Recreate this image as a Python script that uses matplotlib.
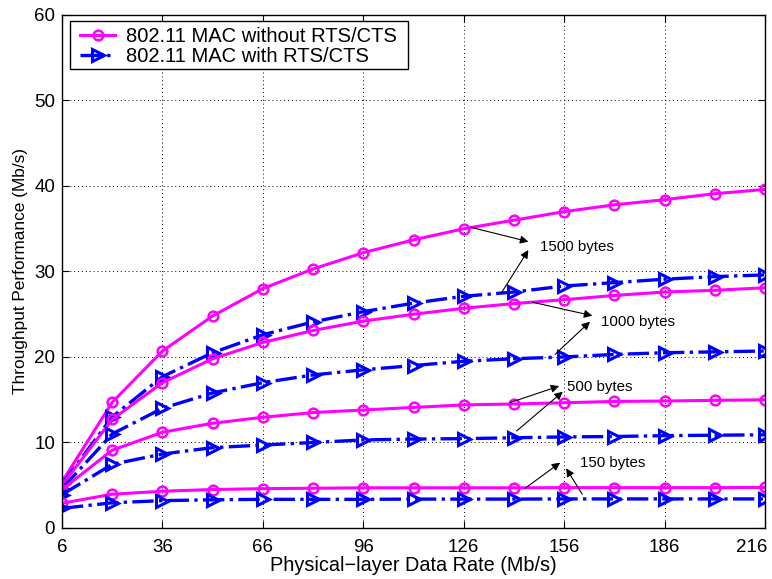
import numpy as np
import matplotlib.pyplot as plt
from matplotlib.patches import Rectangle
from matplotlib.transforms import ScaledTranslation

plt.rcParams['font.family'] = ['Liberation Sans', 'DejaVu Sans']

# physical-layer data rates (Mb/s)
rate = [6, 21, 36, 51, 66, 81, 96, 111, 126, 141, 156, 171, 186, 201, 216]

# throughput without RTS/CTS, per payload size
basic_1500 = [5.4, 14.7, 20.7, 24.8, 28.0, 30.3, 32.2, 33.7, 35.0, 36.0, 37.0, 37.8, 38.4, 39.1, 39.6]
basic_1000 = [5.0, 12.7, 17.0, 19.8, 21.7, 23.1, 24.2, 25.0, 25.7, 26.25, 26.7, 27.2, 27.6, 27.8, 28.1]
basic_500 = [4.5, 9.1, 11.2, 12.25, 12.95, 13.5, 13.8, 14.1, 14.4, 14.5, 14.65, 14.8, 14.85, 14.93, 15.0]
basic_150 = [2.9, 3.95, 4.3, 4.5, 4.6, 4.65, 4.7, 4.7, 4.7, 4.7, 4.72, 4.72, 4.72, 4.72, 4.75]

# throughput with RTS/CTS
rts_1500 = [5.1, 13.0, 17.7, 20.5, 22.6, 24.1, 25.3, 26.3, 27.1, 27.6, 28.3, 28.7, 29.1, 29.4, 29.6]
rts_1000 = [4.6, 11.0, 14.0, 15.8, 17.0, 17.9, 18.5, 19.0, 19.5, 19.8, 20.0, 20.3, 20.5, 20.6, 20.7]
rts_500 = [3.9, 7.45, 8.65, 9.4, 9.7, 10.0, 10.3, 10.4, 10.45, 10.55, 10.65, 10.7, 10.8, 10.85, 10.9]
rts_150 = [2.3, 2.95, 3.2, 3.3, 3.35, 3.35, 3.35, 3.38, 3.38, 3.38, 3.4, 3.4, 3.4, 3.4, 3.4]

fig = plt.figure(figsize=(7.72, 5.79), dpi=100)
ax = fig.add_axes([0.0803, 0.0881, 0.9107, 0.886])

mag = dict(color='#ff00ff', linestyle='-', linewidth=2.2, marker='o', markersize=7,
           markerfacecolor='none', markeredgewidth=1.8)
blu = dict(color='#0000ff', linestyle='-.', linewidth=2.4, marker='>', markersize=8,
           markerfacecolor='none', markeredgewidth=2.2)

for i, (b, r) in enumerate([(basic_1500, rts_1500), (basic_1000, rts_1000),
                            (basic_500, rts_500), (basic_150, rts_150)]):
    ax.plot(rate, b, label='802.11 MAC without RTS/CTS' if i == 0 else None, **mag)
    ax.plot(rate, r, label='802.11 MAC with RTS/CTS' if i == 0 else None, **blu)

# payload size labels with arrows pointing at each curve pair
notes = [
    ('1500 bytes', (148.8, 32.83), [((128.1, 35.17), (145.3, 33.49)), ((137.3, 27.52), (145.3, 32.51))]),
    ('1000 bytes', (166.9, 24.13), [((146.6, 26.4), (164.4, 24.83)), ((153.3, 20.32), (163.7, 24.13))]),
    ('500 bytes', (156.8, 16.46), [((139.8, 14.66), (154.5, 16.6)), ((141.8, 11.35), (155.6, 15.94))]),
    ('150 bytes', (160.7, 7.57), [((144.3, 4.64), (154.8, 7.64)), ((161.4, 3.94), (156.6, 6.98))]),
]
for txt, pos, arrows in notes:
    ax.text(pos[0], pos[1], txt, fontsize=10.8, va='center', ha='left')
    for tail, head in arrows:
        ax.annotate('', xy=head, xytext=tail,
                    arrowprops=dict(arrowstyle='-|>', color='black', lw=0.8,
                                    mutation_scale=12, shrinkA=0, shrinkB=0))

ax.set_xlim(6, 216)
ax.set_ylim(0, 60)
ax.set_xticks(np.arange(6, 217, 30))
ax.set_yticks(np.arange(0, 61, 10))
ax.grid(True, linestyle=(0, (1, 3)), color='black', linewidth=0.7)
ax.tick_params(direction='in', top=True, right=True, labelsize=13.5, length=5)
ax.tick_params(axis='x', pad=8)
ax.tick_params(axis='y', pad=5)
for s in ax.spines.values():
    s.set_linewidth(1.0)

# keep the last x tick label inside the figure
last = ax.get_xticklabels()[-1]
last.set_transform(last.get_transform() + ScaledTranslation(-0.13, 0, fig.dpi_scale_trans))

ax.set_xlabel('Physical\u2212layer Data Rate (Mb/s)', fontsize=14.3, labelpad=0)
ax.set_ylabel('Throughput Performance (Mb/s)', fontsize=12.4, labelpad=4)

# legend entries without frame, box drawn separately for wider side padding
leg = ax.legend(loc='upper left', fontsize=14.5, frameon=False,
                bbox_to_anchor=(80 / 772, 1 - 27 / 579), bbox_transform=fig.transFigure,
                borderaxespad=0, borderpad=0, handlelength=1.75,
                handletextpad=0.55, labelspacing=0.05)
leg.set_zorder(5)
box = Rectangle((70 / 772, 1 - 69 / 579), 338 / 772, 48 / 579, transform=fig.transFigure,
                facecolor='white', edgecolor='black', linewidth=1.0, zorder=4)
ax.add_patch(box)
box.set_clip_on(False)

fig.savefig('out.png', dpi=100)
